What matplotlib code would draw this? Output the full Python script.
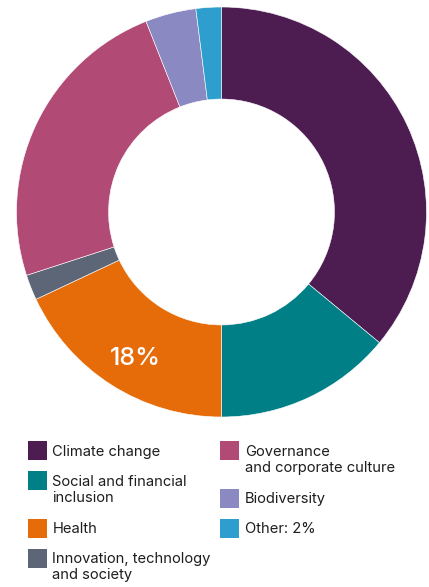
import matplotlib.pyplot as plt
from matplotlib.patches import Rectangle
import numpy as np

plt.rcParams['font.family'] = ['Inter', 'DejaVu Sans']

labels = ["Climate change", "Social and financial\ninclusion", "Health",
          "Innovation, technology\nand society", "Governance\nand corporate culture",
          "Biodiversity", "Other: 2%"]
shares = [36, 14, 18, 2, 24, 4, 2]
colors = ["#4d1c50", "#007f87", "#e66c0a", "#5d6677", "#b14a75", "#8b89c1", "#2d9ecd"]
shown_label = {2: "18%"}

W, H = 429, 587
fig = plt.figure(figsize=(W / 100, H / 100), dpi=100)

# donut: centre ~(221.5, 212) px, outer radius ~205 px
ax = fig.add_axes([16.5 / W, 1 - 417 / H, 410 / W, 410 / H])
wedges, _ = ax.pie(shares, colors=colors, startangle=90, counterclock=False, radius=1,
                   wedgeprops=dict(width=0.449, edgecolor="white", linewidth=0.4))
ax.set_xlim(-1, 1)
ax.set_ylim(-1, 1)
ax.axis("off")

for i, txt in shown_label.items():
    w = wedges[i]
    ang = np.deg2rad((w.theta1 + w.theta2) / 2 + 1.5)
    ax.text(0.82 * np.cos(ang), 0.82 * np.sin(ang), txt, color="white",
            fontsize=18, fontweight="medium", ha="center", va="center_baseline")

# legend, two columns, drawn by hand so the box lines up with the first text line
def fx(x):
    return x / W

def fy(y):
    return 1 - y / H

cols = [(range(0, 4), 28, 52.5), (range(4, 7), 220, 245)]
for idx, xsq, xtxt in cols:
    y = 441
    for i in idx:
        fig.add_artist(Rectangle((fx(xsq), fy(y + 19)), 19 / W, 19 / H,
                                 transform=fig.transFigure, color=colors[i], lw=0))
        lines = labels[i].split("\n")
        for k, ln in enumerate(lines):
            fig.text(fx(xtxt), fy(y + 14.8 + 16 * k), ln, fontsize=10.6,
                     color="#1e1e1e", ha="left", va="baseline")
        y += 30 + 17.5 * (len(lines) - 1)

fig.savefig("out.png", dpi=100)
